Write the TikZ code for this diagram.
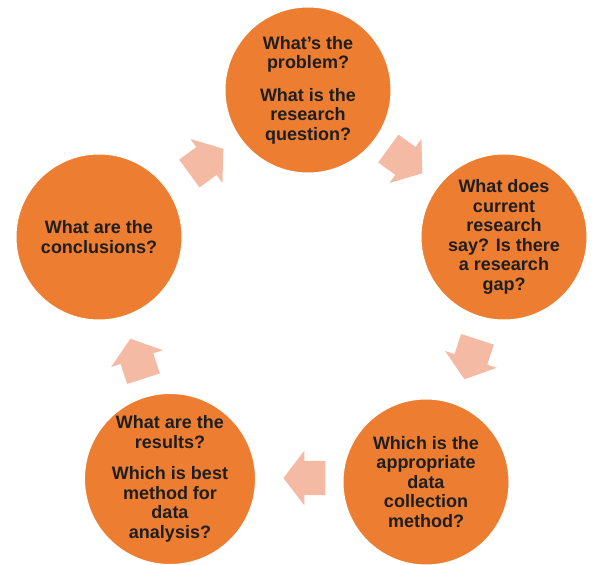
\documentclass[tikz,border=0pt]{standalone}
\usepackage{fontspec}
\setmainfont{Liberation Sans}
\usetikzlibrary{shapes.arrows}
\definecolor{circfill}{HTML}{ED7D31}
\definecolor{arrfill}{HTML}{F4BAA4}
\definecolor{txt}{HTML}{1E1E1E}
\begin{document}
\begin{tikzpicture}[x=1pt,y=-1pt,
  stage/.style={circle, fill=circfill, draw=white, line width=1pt,
    minimum size=166pt, inner sep=0pt, align=center, text=txt,
    font=\bfseries\fontsize{18}{19.5}\selectfont},
  cyclearrow/.style={single arrow, fill=arrfill, draw=none,
    text height=34pt, text depth=0pt, inner sep=0pt,
    minimum height=42pt, single arrow head extend=10pt,
    single arrow tip angle=105}]
\useasboundingbox[fill=white] (0,0) rectangle (595,565);
\node[stage] (problem) at (308,90) {What's the\\problem?\\[13pt]What is the\\research\\question?};
\node[stage] (literature) at (504,237) {What does\\current\\research\\say? Is there\\a research\\gap?};
\node[stage] (method) at (426,482) {Which is the\\appropriate\\data\\collection\\method?};
\node[stage] (results) at (170,479) {What are the\\results?\\[12pt]Which is best\\method for\\data\\analysis?};
\node[stage] (conclusions) at (99,237) {What are the\\conclusions?};
\node[cyclearrow, rotate=36] (a1) at (201,165) {};
\node[cyclearrow, rotate=-36] (a2) at (400,157) {};
\node[cyclearrow, rotate=-108] (a3) at (473,353) {};
\node[cyclearrow, rotate=180] (a4) at (311,478) {};
\node[cyclearrow, rotate=108] (a5) at (139,365) {};
\end{tikzpicture}
\end{document}
